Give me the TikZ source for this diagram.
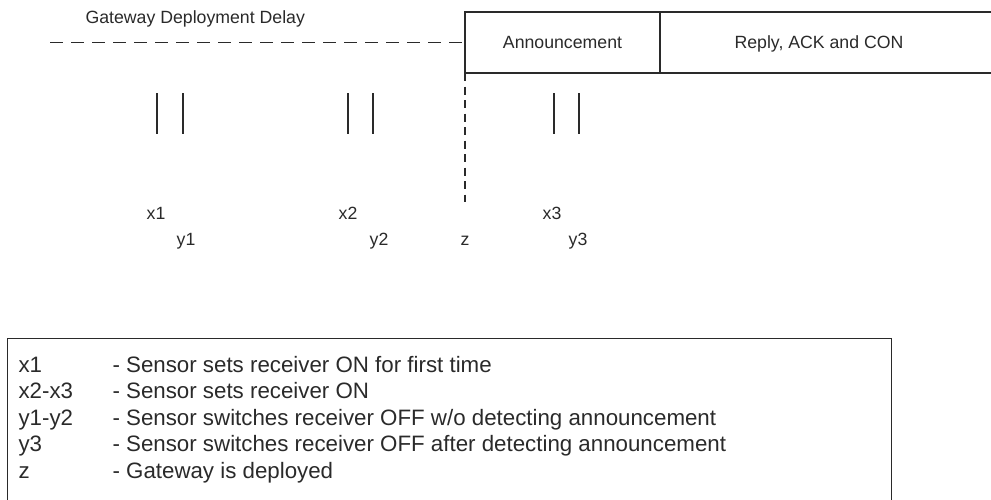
\documentclass[tikz,border=0pt]{standalone}
\usepackage{fontspec}
\setmainfont{Liberation Sans}
\definecolor{ink}{HTML}{2A2A2A}
\begin{document}
\begin{tikzpicture}[x=1pt,y=-1pt,line width=1.1pt,color=ink,
    small/.style={font=\fontsize{17.7}{20}\selectfont},
    cell/.style={draw,small,minimum height=61pt,inner sep=0pt,outer sep=0pt,anchor=north west},
    tick/.style={line width=1.3pt},
    lbl/.style={small,anchor=base,inner sep=0pt},
    key/.style={font=\fontsize{22.3}{26}\selectfont,anchor=base west,inner sep=0pt}]
    \useasboundingbox (0,0) rectangle (991,499);
    \clip (0,0) rectangle (991,499);
    \node[lbl,anchor=base west] (delay) at (85,23.3) {Gateway Deployment Delay};
    \node[cell,minimum width=195pt] (ann) at (465,12) {Announcement};
    \node[cell,minimum width=340pt] (rep) at (ann.north east) {};
    \path (ann.base) ++(256.5,0) node[lbl] (reptxt) {Reply, ACK and CON};
    \coordinate (dstart) at (50,42.5);
    \coordinate (zend) at (465,202);
    \draw[dash pattern=on 13pt off 8pt] (dstart) -- (ann.west);
    \draw[dash pattern=on 8pt off 5.5pt] (ann.south west) -- (zend);
    \foreach \a/\b in {157/183,348/373,554/579}
        \draw[tick] (\a,93) -- (\a,134) (\b,93) -- (\b,134);
    \node[lbl] (x1) at (156,219.3) {x1};
    \node[lbl] (y1) at (186,245.7) {y1};
    \node[lbl] (x2) at (348,219.3) {x2};
    \node[lbl] (y2) at (379,245.7) {y2};
    \node[lbl] (z) at (465,245.7) {z};
    \node[lbl] (x3) at (552,219.3) {x3};
    \node[lbl] (y3) at (578,245.7) {y3};
    \node[draw,minimum width=884pt,minimum height=190pt,anchor=north west,inner sep=0pt] (legend) at (7,338) {};
    \node[key] (k1) at (18,372) {x1};
    \node[key] (k2) at (18,398.5) {x2-x3};
    \node[key] (k3) at (18,425) {y1-y2};
    \node[key] (k4) at (18,451.5) {y3};
    \node[key] (k5) at (18,478) {z};
    \node[key] (t1) at (112,372) {- Sensor sets receiver ON for first time};
    \node[key] (t2) at (112,398.5) {- Sensor sets receiver ON};
    \node[key] (t3) at (112,425) {- Sensor switches receiver OFF w/o detecting announcement};
    \node[key] (t4) at (112,451.5) {- Sensor switches receiver OFF after detecting announcement};
    \node[key] (t5) at (112,478) {- Gateway is deployed};
\end{tikzpicture}
\end{document}
